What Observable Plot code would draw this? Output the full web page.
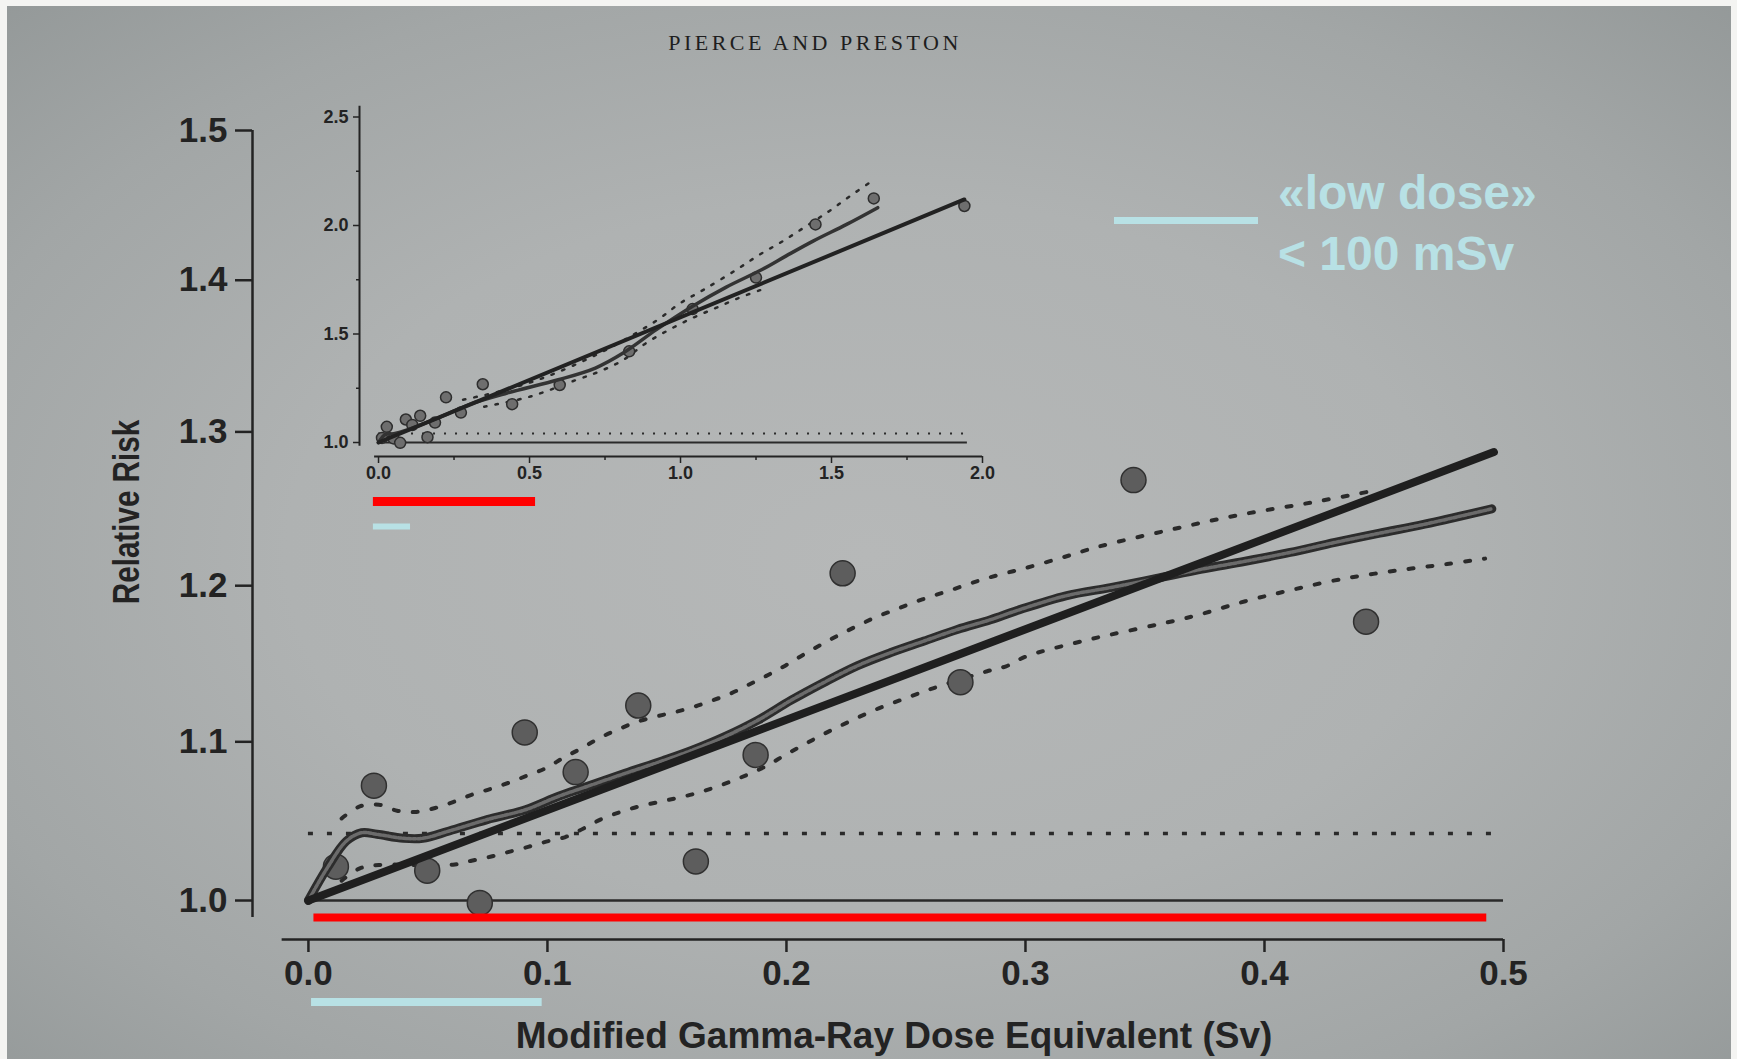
<!DOCTYPE html>
<html><head><meta charset="utf-8">
<script src="https://cdn.jsdelivr.net/npm/d3@7"></script>
<script src="https://cdn.jsdelivr.net/npm/@observablehq/plot@0.6"></script>
<style>
html,body{margin:0;padding:0;background:#f4f4f2;width:1737px;height:1059px;overflow:hidden;}
#paper{position:absolute;left:7px;top:6px;width:1724px;height:1053px;
 background:radial-gradient(ellipse 75% 75% at 50% 52%, #b6b8b8 0%, #afb2b2 45%, #a2a6a6 75%, #929797 100%);}
#main{position:absolute;left:0;top:0;width:1737px;height:1059px;}
#inset{position:absolute;left:300px;top:90px;width:720px;height:460px;}
#title{position:absolute;left:615px;width:400px;top:32px;text-align:center;font:22px/22px "Liberation Serif","Times New Roman",serif;letter-spacing:3.5px;color:#1e1e1e;}
#ylab{position:absolute;left:-23px;top:492px;width:300px;height:40px;text-align:center;font:bold 37px/40px "Liberation Sans",Arial,sans-serif;color:#232323;transform:rotate(-90deg) scaleX(0.8);white-space:nowrap;}
.leg{position:absolute;left:1278px;font:bold 48px/48px "Liberation Sans",Arial,sans-serif;color:#b8e1e5;white-space:nowrap;}
#legline{position:absolute;left:1114px;top:217px;width:144px;height:7px;background:#b8e1e5;}
</style></head>
<body>
<div id="paper"></div>
<div id="title">PIERCE AND PRESTON</div>
<div id="main"></div>
<div id="inset"></div>
<div id="ylab">Relative Risk</div>
<div id="legline"></div>
<div class="leg" style="top:169px">«low dose»</div>
<div class="leg" style="top:230px">&lt; 100 mSv</div>
<script>
// ---- data: dose (Sv) and relative risk of the plotted categories ----
const doses   = [0.0115, 0.0274, 0.0497, 0.0717, 0.0905, 0.1118, 0.138, 0.1621, 0.1871, 0.2235, 0.2728, 0.3452, 0.4425, 0.60, 0.83, 1.04, 1.25, 1.447, 1.64, 1.94];
const relRisk = [1.0212, 1.0722, 1.0187, 0.9985, 1.106, 1.0808, 1.1231, 1.0245, 1.0917, 1.208, 1.138, 1.2685, 1.1768, 1.265, 1.42, 1.615, 1.76, 2.005, 2.125, 2.09];

// linear fit
const fitDose = [0, 0.496];
const fitRR   = [1.0, 1.2868];
const fitDoseInset = [0, 1.94];
const fitRRInset   = [1.0, 2.12];

// smoothed estimate (main panel)
const smoothDose = [0, 0.008, 0.0159, 0.0223, 0.0287, 0.0398, 0.0478, 0.0589, 0.0748, 0.0908, 0.1047, 0.1162, 0.1325, 0.1483, 0.1603, 0.1742, 0.1881, 0.202, 0.2159, 0.2298, 0.2437, 0.2576, 0.2715, 0.2854, 0.2965, 0.3169, 0.3356, 0.3544, 0.3732, 0.392, 0.4107, 0.4295, 0.4482, 0.467, 0.4951];
const smoothRR   = [1.0, 1.0207, 1.0373, 1.0425, 1.0415, 1.039, 1.039, 1.0436, 1.0508, 1.057, 1.0655, 1.0715, 1.080, 1.088, 1.0945, 1.1033, 1.1138, 1.1265, 1.138, 1.1486, 1.157, 1.1644, 1.1718, 1.1781, 1.1840, 1.1935, 1.1988, 1.2045, 1.2105, 1.2158, 1.2215, 1.228, 1.234, 1.2398, 1.2498];

// +/- 1 s.e. band (main panel)
const upperDose = [0.0139, 0.0215, 0.0295, 0.0371, 0.0451, 0.053, 0.0605, 0.0682, 0.0761, 0.0839, 0.0919, 0.0995, 0.1068, 0.1144, 0.1221, 0.1301, 0.1376, 0.1457, 0.1533, 0.161, 0.1686, 0.1765, 0.1842, 0.1919, 0.1995, 0.2071, 0.2148, 0.2224, 0.2302, 0.2378, 0.2455, 0.2531, 0.261, 0.2687, 0.2766, 0.284, 0.2919, 0.3, 0.315, 0.33, 0.36, 0.39, 0.42, 0.447];
const upperRR   = [1.0515, 1.0591, 1.0602, 1.0564, 1.0556, 1.0581, 1.0618, 1.0664, 1.0701, 1.0741, 1.0788, 1.0834, 1.09, 1.096, 1.1027, 1.1082, 1.1128, 1.1162, 1.1189, 1.1221, 1.1261, 1.1307, 1.1364, 1.1423, 1.1486, 1.1556, 1.1623, 1.1686, 1.1745, 1.18, 1.1845, 1.1891, 1.1933, 1.1971, 1.2013, 1.2049, 1.2082, 1.2114, 1.218, 1.225, 1.236, 1.246, 1.254, 1.262];
const lowerDose = [0.0139, 0.0215, 0.0295, 0.0605, 0.0682, 0.0761, 0.0839, 0.0919, 0.0995, 0.1075, 0.1151, 0.1225, 0.1304, 0.1378, 0.1457, 0.1533, 0.1611, 0.1686, 0.1765, 0.1842, 0.192, 0.1995, 0.2071, 0.2149, 0.2226, 0.2302, 0.2378, 0.2457, 0.2534, 0.2613, 0.284, 0.2919, 0.3, 0.3229, 0.3694, 0.392, 0.4107, 0.4313, 0.4538, 0.4764, 0.4923];
const lowerRR   = [1.0124, 1.0201, 1.0222, 1.0224, 1.0249, 1.0274, 1.0305, 1.0336, 1.0369, 1.0398, 1.0452, 1.051, 1.0555, 1.0589, 1.0616, 1.0641, 1.0669, 1.0704, 1.0747, 1.0795, 1.085, 1.0917, 1.098, 1.1044, 1.1102, 1.1157, 1.1208, 1.1254, 1.1298, 1.1341, 1.145, 1.1482, 1.1543, 1.164, 1.18, 1.19, 1.197, 1.204, 1.2095, 1.214, 1.2175];

// inset (0-2 Sv) smooth and band
const insSmoothDose = [0, 0.025, 0.05, 0.1, 0.2, 0.3, 0.426, 0.595, 0.718, 0.81, 0.92, 1.04, 1.15, 1.27, 1.35, 1.439, 1.55, 1.653];
const insSmoothRR   = [1.0, 1.04, 1.04, 1.06, 1.115, 1.175, 1.228, 1.289, 1.343, 1.412, 1.52, 1.628, 1.715, 1.797, 1.86, 1.928, 2.005, 2.082];
const insUpperDose = [0.28, 0.4, 0.55, 0.7, 0.81, 0.925, 1.0, 1.078, 1.186, 1.262, 1.339, 1.416, 1.492, 1.561, 1.638];
const insUpperRR   = [1.197, 1.235, 1.3, 1.39, 1.47, 1.566, 1.643, 1.705, 1.797, 1.866, 1.928, 1.997, 2.066, 2.135, 2.209];
const insLowerDose = [0.35, 0.503, 0.656, 0.733, 0.81, 0.886, 0.963, 1.04, 1.117, 1.193, 1.27];
const insLowerRR   = [1.165, 1.212, 1.289, 1.328, 1.38, 1.458, 1.52, 1.574, 1.62, 1.666, 1.705];

// reference lines: RR = 1 and dashed line
const refRR = [1.0, 1.042];
const refSpanMain = [0, 0.5];
const refSpanInset = [0, 1.95];

// ticks
const mainXTicks = [0, 0.1, 0.2, 0.3, 0.4, 0.5];
const mainYTicks = [1.0, 1.1, 1.2, 1.3, 1.4, 1.5];
const insXTicks = [0, 0.5, 1.0, 1.5, 2.0];
const insXMinor = [0.25, 0.75, 1.25, 1.75];
const insYTicks = [1.0, 1.5, 2.0, 2.5];
const insYMinor = [1.25, 1.75, 2.25];

// highlight annotations (red: range of main panel, cyan: low dose < 0.1 Sv)
const mainRed  = {y: 0.9894, x1: 0.0023, x2: 0.493};
const mainCyan = {y: 0.937, x1: 0.0013, x2: 0.0978};
const insRed   = {y: 0.728, x1: -0.017, x2: 0.52};
const insCyan  = {y: 0.613, x1: -0.017, x2: 0.106};

// axis frames (the photographed page is seen in slight perspective: pow y scale)
const mainXDomain = [-0.0234, 0.5];
const mainYDomain = [0.9757, 1.5];
const mainXAxisStart = -0.011, mainYAxisEnd = 0.9894;
const insXDomain = [-0.063, 2.0];
const insYDomain = [0.9355, 2.55];
const insXAxisStart = -0.013, insYAxisEnd = 0.983;

const xy = (xs, ys) => xs.map((x, i) => ({x, y: ys[i]}));
const points = doses.map((d, i) => ({dose: d, rr: relRisk[i]}));
const mainPoints = points.filter(p => p.dose <= 0.5);
const INK = "#232323";
const f1 = d3.format(".1f");

const main = Plot.plot({
  width: 1737, height: 1059,
  marginLeft: 252, marginRight: 234, marginTop: 130, marginBottom: 120,
  x: {domain: mainXDomain},
  y: {type: "pow", exponent: 0.82, domain: mainYDomain},
  style: {background: "transparent", fontFamily: "'Liberation Sans', Arial, sans-serif", fontWeight: "bold", fontSize: "35px", color: INK},
  marks: [
    Plot.ruleX([mainXDomain[0]], {y1: mainYAxisEnd, y2: mainYDomain[1], stroke: INK, strokeWidth: 2.5}),
    Plot.ruleY([mainYDomain[0]], {x1: mainXAxisStart, x2: mainXDomain[1], stroke: INK, strokeWidth: 2.5}),
    Plot.axisY({ticks: mainYTicks, tickFormat: f1, tickSize: 17, tickPadding: 8, stroke: INK, strokeWidth: 2.5, label: null}),
    Plot.axisX({ticks: mainXTicks, tickFormat: f1, tickSize: 13, tickPadding: 8, stroke: INK, strokeWidth: 2.5, label: null}),
    Plot.text(["Modified Gamma-Ray Dose Equivalent (Sv)"], {frameAnchor: "bottom", lineAnchor: "middle", textAnchor: "middle", dx: 16, dy: 97, fontSize: 37, fontWeight: "bold", fill: INK}),
    // reference lines
    Plot.ruleY([refRR[0]], {x1: refSpanMain[0], x2: refSpanMain[1], stroke: "#2a2a2a", strokeWidth: 2.5}),
    Plot.ruleY([refRR[1]], {x1: refSpanMain[0], x2: refSpanMain[1], stroke: "#2a2a2a", strokeWidth: 3.5, strokeDasharray: "5,14"}),
    // band
    Plot.line(xy(upperDose, upperRR), {x: "x", y: "y", stroke: "#2a2a2a", strokeWidth: 4, strokeDasharray: "5,14", curve: "catmull-rom"}),
    Plot.line(xy(lowerDose, lowerRR), {x: "x", y: "y", stroke: "#2a2a2a", strokeWidth: 4, strokeDasharray: "5,14", curve: "catmull-rom"}),
    // points
    Plot.dot(mainPoints, {x: "dose", y: "rr", r: 12.5, fill: "#5d5d5d", stroke: "#303030", strokeWidth: 1.5}),
    // smooth
    Plot.line(xy(smoothDose, smoothRR), {x: "x", y: "y", stroke: "#2c2c2c", strokeWidth: 9, curve: "catmull-rom", strokeLinecap: "round"}),
    Plot.line(xy(smoothDose, smoothRR), {x: "x", y: "y", stroke: "#6b6b6b", strokeWidth: 3.5, curve: "catmull-rom", strokeDasharray: "3,2"}),
    // linear fit
    Plot.line(xy(fitDose, fitRR), {x: "x", y: "y", stroke: "#1f1f1f", strokeWidth: 8}),
    // annotations
    Plot.ruleY([mainRed], {y: "y", x1: "x1", x2: "x2", stroke: "#ff0000", strokeWidth: 8}),
    Plot.ruleY([mainCyan], {y: "y", x1: "x1", x2: "x2", stroke: "#b8e1e5", strokeWidth: 8})
  ]
});
document.getElementById("main").appendChild(main);

const inset = Plot.plot({
  width: 720, height: 460,
  marginLeft: 59, marginRight: 38, marginTop: 15.65, marginBottom: 94,
  x: {domain: insXDomain},
  y: {domain: insYDomain},
  style: {background: "transparent", fontFamily: "'Liberation Sans', Arial, sans-serif", fontWeight: "bold", fontSize: "18px", color: INK},
  marks: [
    Plot.ruleX([insXDomain[0]], {y1: insYAxisEnd, y2: insYDomain[1], stroke: INK, strokeWidth: 2}),
    Plot.ruleY([insYDomain[0]], {x1: insXAxisStart, x2: insXDomain[1], stroke: INK, strokeWidth: 2}),
    Plot.axisY({ticks: insYTicks, tickFormat: f1, tickSize: 6, tickPadding: 5, stroke: INK, strokeWidth: 1.5, label: null}),
    Plot.axisY({ticks: insYMinor, tickFormat: () => "", tickSize: 3, stroke: INK, strokeWidth: 1.5, label: null}),
    Plot.axisX({ticks: insXTicks, tickFormat: f1, tickSize: 7, tickPadding: 3, stroke: INK, strokeWidth: 1.5, label: null}),
    Plot.axisX({ticks: insXMinor, tickFormat: () => "", tickSize: 4, stroke: INK, strokeWidth: 1.5, label: null}),
    Plot.ruleY([refRR[0]], {x1: refSpanInset[0], x2: refSpanInset[1], stroke: "#2a2a2a", strokeWidth: 2}),
    Plot.ruleY([refRR[1]], {x1: refSpanInset[0], x2: refSpanInset[1], stroke: "#2a2a2a", strokeWidth: 2, strokeDasharray: "2,9"}),
    Plot.line(xy(insUpperDose, insUpperRR), {x: "x", y: "y", stroke: "#2a2a2a", strokeWidth: 2.5, strokeDasharray: "2.5,9", curve: "catmull-rom"}),
    Plot.line(xy(insLowerDose, insLowerRR), {x: "x", y: "y", stroke: "#2a2a2a", strokeWidth: 2.5, strokeDasharray: "2.5,9", curve: "catmull-rom"}),
    Plot.dot(points, {x: "dose", y: "rr", r: 5.5, fill: "#6e6e6e", stroke: "#2e2e2e", strokeWidth: 1.5}),
    Plot.line(xy(insSmoothDose, insSmoothRR), {x: "x", y: "y", stroke: "#333", strokeWidth: 3.5, curve: "catmull-rom"}),
    Plot.line(xy(fitDoseInset, fitRRInset), {x: "x", y: "y", stroke: "#222", strokeWidth: 4}),
    Plot.ruleY([insRed], {y: "y", x1: "x1", x2: "x2", stroke: "#ff0000", strokeWidth: 9}),
    Plot.ruleY([insCyan], {y: "y", x1: "x1", x2: "x2", stroke: "#b8e1e5", strokeWidth: 6})
  ]
});
document.getElementById("inset").appendChild(inset);
</script>
</body></html>
